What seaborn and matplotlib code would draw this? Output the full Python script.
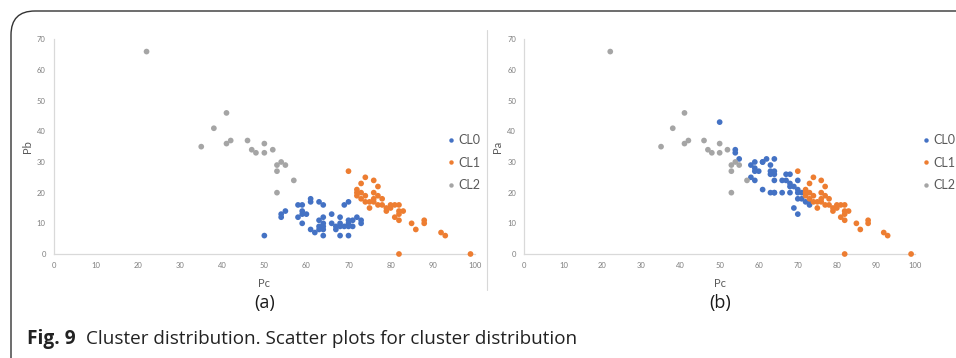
import matplotlib
matplotlib.use("Agg")
import matplotlib.pyplot as plt
import seaborn as sns
import pandas as pd
from matplotlib.patches import FancyBboxPatch
from matplotlib.lines import Line2D

# ---------------- data ----------------
pc_cl0 = [50, 54, 54, 55, 58, 58, 59, 59, 59, 59, 60, 61, 61, 61, 62,
          63, 63, 63, 63, 64, 64, 64, 64, 64, 64, 66, 66, 67, 67,
          68, 68, 68, 68, 69, 69, 70, 70, 70, 70, 70, 71, 71, 72, 73, 73]
pb_cl0 = [6, 13, 12, 14, 16, 12, 16, 14, 13, 10, 13, 18, 17, 8, 7,
          17, 11, 9, 8, 16, 12, 10, 9, 8, 6, 13, 10, 9, 8,
          12, 10, 9, 6, 9, 16, 17, 11, 10, 9, 6, 11, 9, 12, 11, 10]
pa_cl0 = [43, 34, 33, 31, 29, 25, 30, 28, 27, 24, 27, 30, 21, 30, 31,
          29, 27, 26, 20, 31, 27, 26, 24, 20, 20, 24, 20, 26, 24,
          26, 23, 22, 20, 22, 15, 24, 21, 20, 18, 13, 20, 18, 17, 17, 16]

pc_cl1 = [70, 74, 73, 76, 77, 72, 72, 72, 73, 73, 74, 74, 75, 75, 76, 76, 76,
          77, 77, 78, 78, 79, 79, 80, 80, 81, 82, 81, 82, 82, 83, 82,
          85, 86, 88, 88, 92, 93, 82, 99]
pb_cl1 = [27, 25, 23, 24, 22, 21, 20, 19, 20, 18, 19, 17, 17, 15, 20, 18, 17,
          19, 16, 18, 16, 15, 14, 16, 15, 16, 16, 12, 14, 13, 14, 11,
          10, 8, 11, 10, 7, 6, 0, 0]
pa_cl1 = [27, 25, 23, 24, 22, 21, 20, 19, 20, 18, 19, 17, 17, 15, 20, 18, 17,
          19, 16, 18, 16, 15, 14, 16, 15, 16, 16, 12, 14, 13, 14, 11,
          10, 8, 11, 10, 7, 6, 0, 0]

pc_cl2 = [22, 35, 38, 41, 41, 42, 46, 47, 48, 50, 50, 52, 53, 54, 55, 53, 57, 53]
pb_cl2 = [66, 35, 41, 46, 36, 37, 37, 34, 33, 36, 33, 34, 29, 30, 29, 27, 24, 20]
pa_cl2 = [66, 35, 41, 46, 36, 37, 37, 34, 33, 36, 33, 34, 29, 30, 29, 27, 24, 20]

cluster_names = ["CL0", "CL1", "CL2"]
cluster_colors = ["#4472C4", "#ED7D31", "#A5A5A5"]
x_ticks = [0, 10, 20, 30, 40, 50, 60, 70, 80, 90, 100]
y_ticks = [0, 10, 20, 30, 40, 50, 60, 70]
panel_labels = ["(a)", "(b)"]
y_names = ["Pb", "Pa"]
caption_bold = "Fig. 9"
caption_text = "Cluster distribution. Scatter plots for cluster distribution"

df = pd.DataFrame({
    "Pc": pc_cl0 + pc_cl1 + pc_cl2,
    "Pb": pb_cl0 + pb_cl1 + pb_cl2,
    "Pa": pa_cl0 + pa_cl1 + pa_cl2,
    "cluster": ["CL0"] * len(pc_cl0) + ["CL1"] * len(pc_cl1) + ["CL2"] * len(pc_cl2),
})

# ---------------- figure ----------------
sns.set_theme(style="white")
plt.rcParams["font.family"] = ["Lato", "DejaVu Sans"]

W, H = 956, 358
fig = plt.figure(figsize=(W / 100, H / 100), dpi=100)
fig.patch.set_facecolor("white")

palette = dict(zip(cluster_names, cluster_colors))
tick_col = "#7f7f7f"
lab_col = "#595959"

def fx(px):
    return px / W

def fy(py):
    return 1 - py / H

axes_px = [(54, 474.7), (524.3, 915)]
legend_px = [447.5, 922.5]

for i, (x0, x1) in enumerate(axes_px):
    ax = fig.add_axes([fx(x0), fy(254), fx(x1) - fx(x0), fy(39.3) - fy(254)])
    sns.scatterplot(data=df, x="Pc", y=y_names[i], hue="cluster",
                    hue_order=cluster_names, palette=palette, s=17,
                    linewidth=0, ax=ax, legend=False, clip_on=False, zorder=3)
    ax.set_xlim(0, 100)
    ax.set_ylim(0, 70)
    ax.set_xticks(x_ticks)
    ax.set_yticks(y_ticks)
    ax.tick_params(axis="both", length=0, labelsize=5.5, labelcolor=tick_col, pad=6)
    for s in ["top", "right"]:
        ax.spines[s].set_visible(False)
    for s in ["left", "bottom"]:
        ax.spines[s].set_color("#d9d9d9")
        ax.spines[s].set_linewidth(0.9)
    ax.set_xlabel("Pc", fontsize=8, color=lab_col, labelpad=6)
    ax.set_ylabel(y_names[i], fontsize=8, color=lab_col, labelpad=3)
    ax.grid(False)
    ax.set_facecolor("none")

    handles = [Line2D([0], [0], marker="o", linestyle="", markersize=3.2,
                      markerfacecolor=c, markeredgewidth=0) for c in cluster_colors]
    ax.legend(handles, cluster_names, loc="upper left",
              bbox_to_anchor=(fx(legend_px[i]), fy(134)),
              bbox_transform=fig.transFigure, frameon=False, fontsize=9,
              labelcolor=lab_col, handletextpad=0.3, labelspacing=0.85,
              handlelength=0.6, borderpad=0, borderaxespad=0)

    cx = (x0 + x1) / 2
    fig.text(fx(cx), fy(303), panel_labels[i], ha="center", va="center",
             fontsize=13, color="#1a1a1a", family=["Open Sans", "DejaVu Sans"])

# separator between panels
fig.add_artist(Line2D([fx(487), fx(487)], [fy(30), fy(290)], color="#d8d8d8",
                      linewidth=0.8, transform=fig.transFigure))

# rounded frame (top and left edges visible)
frame = FancyBboxPatch((fx(11), -0.2), 1.3, fy(11) + 0.2,
                       boxstyle="round,pad=0,rounding_size=0.025",
                       transform=fig.transFigure, facecolor="none",
                       edgecolor="#333333", linewidth=1.0, mutation_aspect=W / H)
fig.add_artist(frame)

# caption
fig.text(fx(27), fy(339), caption_bold, ha="left", va="center",
         fontsize=13.8, fontweight="bold", color="#222222",
         family=["Open Sans", "DejaVu Sans"])
fig.text(fx(86), fy(339), caption_text, ha="left", va="center",
         fontsize=13.6, color="#222222", family=["Open Sans", "DejaVu Sans"])

fig.savefig("out.png", dpi=100, facecolor="white")
